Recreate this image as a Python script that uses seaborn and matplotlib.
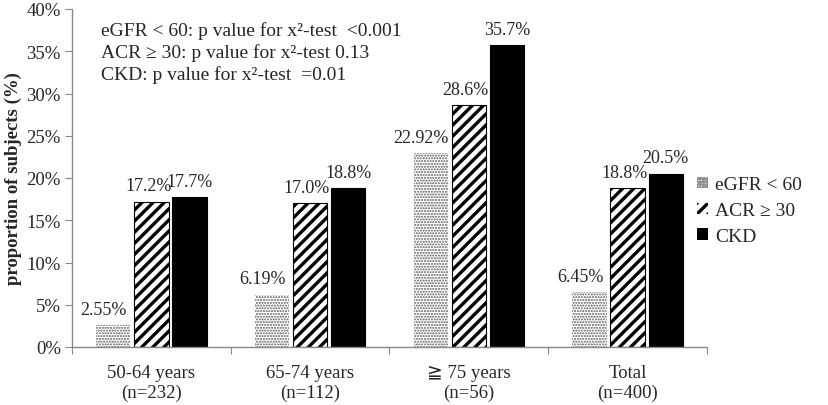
import pandas as pd
import matplotlib.pyplot as plt
import seaborn as sns
from matplotlib.patches import Patch

# veriler
gruplar = ['50-64 years\n(n=232)', '65-74 years\n(n=112)', '≧ 75 years\n(n=56)', 'Total\n(n=400)']
seriler = ['eGFR < 60', 'ACR ≥ 30', 'CKD']
egfr = [2.55, 6.19, 22.92, 6.45]
acr = [17.2, 17.0, 28.6, 18.8]
ckd = [17.7, 18.8, 35.7, 20.5]
egfr_etiket = ['2.55%', '6.19%', '22.92%', '6.45%']
acr_etiket = ['17.2%', '17.0%', '28.6%', '18.8%']
ckd_etiket = ['17.7%', '18.8%', '35.7%', '20.5%']
notlar = ['eGFR < 60: p value for x²-test  <0.001',
          'ACR ≥ 30: p value for x²-test 0.13',
          'CKD: p value for x²-test  =0.01']

sns.set_style('white')
plt.rcParams['font.family'] = ['Liberation Serif', 'DejaVu Sans']
plt.rcParams['hatch.linewidth'] = 2.4

df = pd.DataFrame({
    'grup': gruplar * 3,
    'seri': [s for s in seriler for _ in gruplar],
    'deger': egfr + acr + ckd,
})

fig = plt.figure(figsize=(8.29, 4.06), dpi=100)
ax = fig.add_axes([72 / 829, 1 - 348 / 406, (707 - 72) / 829, (348 - 10) / 406])

sns.barplot(data=df, x='grup', y='deger', hue='seri', order=gruplar, hue_order=seriler,
            width=0.72, gap=0.1, ax=ax, legend=False)

stiller = [
    dict(facecolor='white', hatch='oooooo', edgecolor='#909090', linewidth=0),
    dict(facecolor='white', hatch='///', edgecolor='black', linewidth=0.8),
    dict(facecolor='black', hatch=None, edgecolor='black', linewidth=0.8),
]
etiketler = [egfr_etiket, acr_etiket, ckd_etiket]
kaydir = [-0.06, -0.02, 0.0]
for i, kap in enumerate(ax.containers):
    for j, bar in enumerate(kap):
        bar.set_facecolor(stiller[i]['facecolor'])
        bar.set_edgecolor(stiller[i]['edgecolor'])
        bar.set_linewidth(stiller[i]['linewidth'])
        if stiller[i]['hatch']:
            bar.set_hatch(stiller[i]['hatch'])
            if i == 0 and hasattr(bar, 'set_hatch_linewidth'):
                bar.set_hatch_linewidth(0.5)
        x = bar.get_x() + bar.get_width() / 2 + kaydir[i]
        ax.text(x, bar.get_height() + 0.9, etiketler[i][j], ha='center', va='bottom', fontsize=13)

ax.set_ylim(0, 40)
ax.set_xlim(-0.5, 3.5)
ax.set_yticks(range(0, 41, 5))
ax.set_yticklabels([f'{v}%' for v in range(0, 41, 5)], fontsize=13.5)
ax.set_xticks([-0.5, 0.5, 1.5, 2.5, 3.5], minor=False)
ax.set_xticklabels([])
ax.set_xticks(range(4), minor=True)
ax.set_xticklabels(gruplar, minor=True, fontsize=13.5)
ax.tick_params(axis='x', which='major', length=5, color='#888888', direction='out', bottom=True)
ax.tick_params(axis='x', which='minor', length=0, pad=12)
ax.tick_params(axis='y', length=5, color='#888888', direction='out', left=True, pad=3)
ax.set_xlabel('')
ax.set_ylabel('proportion of subjects (%)', fontsize=13.5, fontweight='bold', labelpad=3)
for k in ['top', 'right']:
    ax.spines[k].set_visible(False)
for k in ['left', 'bottom']:
    ax.spines[k].set_color('#888888')
    ax.spines[k].set_linewidth(1)

for satir, y in zip(notlar, [37.5, 34.9, 32.3]):
    ax.text(-0.32, y, satir, ha='left', va='center', fontsize=14)

tutamaclar = [Patch(facecolor=s['facecolor'], hatch=s['hatch'], edgecolor=s['edgecolor'], linewidth=0)
              for s in stiller]
fig.legend(tutamaclar, seriler, loc='upper left', bbox_to_anchor=(680 / 829, 1 - 160 / 406),
           frameon=False, fontsize=14, handlelength=0.55, handleheight=0.55, handletextpad=0.35,
           labelspacing=0.45)

fig.savefig('out.png', dpi=100)
